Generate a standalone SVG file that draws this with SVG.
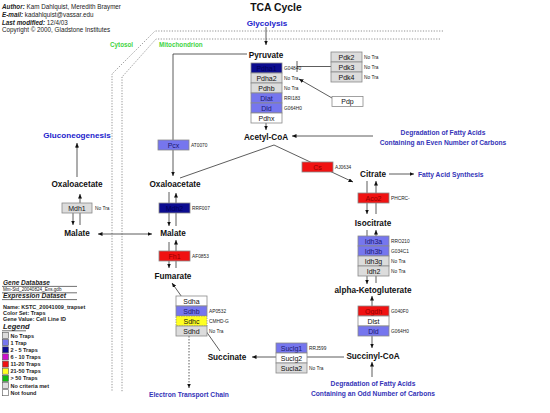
<svg xmlns="http://www.w3.org/2000/svg" width="550" height="413" viewBox="0 0 550 413">
<defs>
<marker id="ah" markerUnits="userSpaceOnUse" markerWidth="5" markerHeight="4" refX="4.5" refY="2" orient="auto-start-reverse"><path d="M0,0 L4.5,2 L0,4 z" fill="#111"/></marker>
<style>
text{font-family:"Liberation Sans",Arial,sans-serif}
.met{font-size:8.2px;font-weight:bold;text-anchor:middle;fill:#111}
.gene rect{stroke:#8a8a8a;stroke-width:0.8}
.gt{font-size:7px;text-anchor:middle;fill:#111}
.ann{font-size:4.8px;fill:#222}
.pw{font-size:6.7px;font-weight:bold;fill:#3434b8;text-anchor:middle}
.pwb{font-size:8.1px;font-weight:bold;fill:#2222cc;text-anchor:middle}
.ln{stroke:#333;stroke-width:0.8;fill:none}
.arr{marker-end:url(#ah)}
.g0{fill:#dcdcdc}.b1{fill:#7676ee}.b2{fill:#0c0c90}.rd{fill:#f01212}.yl{fill:#ffff22}.wh{fill:#ffffff}
.tb2{fill:#000058}.tb1{fill:#1a1a70}.trd{fill:#900000}
.dash{stroke:#777;stroke-width:0.8;stroke-dasharray:1.2,1.5;fill:none}
.lg{font-size:5.5px;font-weight:bold;fill:#222}
.lh{font-style:italic;font-weight:bold;fill:#222}
.ul{stroke:#333;stroke-width:0.7}
</style>
</defs>
<rect width="550" height="413" fill="#fff"/>

<g id="header">
<text x="2" y="9" font-size="6.3" fill="#222"><tspan font-weight="bold" font-style="italic">Author:</tspan> Kam Dahlquist, Meredith Braymer</text>
<text x="2" y="17" font-size="6.3" fill="#222"><tspan font-weight="bold" font-style="italic">E-mail:</tspan> kadahlquist@vassar.edu</text>
<text x="2" y="24.5" font-size="6.3" fill="#222"><tspan font-weight="bold" font-style="italic">Last modified:</tspan> 12/4/03</text>
<text x="2" y="32" font-size="6.3" fill="#222">Copyright © 2000, Gladstone Institutes</text>
<text x="276" y="11" font-size="10.4" font-weight="bold" text-anchor="middle" fill="#111">TCA Cycle</text>
</g>

<g id="compartments">
<path class="dash" d="M443,31 H155 L112,74 V392"/>
<path class="dash" d="M440,39 H156 L122,77 V392"/>
<text x="110" y="47" font-size="6.3" font-weight="bold" fill="#3fd43f">Cytosol</text>
<text x="159" y="47" font-size="6.3" font-weight="bold" fill="#3fd43f">Mitochondrion</text>
</g>

<g id="connectors">
<path class="ln arr" d="M266,27 V45"/>
<path class="ln arr" stroke="#555" d="M247,54 H173 V176"/>
<path class="ln arr" d="M266,123 V130"/>
<path class="ln" stroke="#666" d="M331,66.5 H297 M297,61 V72"/>
<path class="ln arr" stroke="#444" d="M332,98 L299,79"/>
<path class="ln arr" d="M373,136 H292"/>
<path class="ln" stroke="#555" d="M180,178 L274,145"/>
<path class="ln arr" stroke="#444" d="M274,145 L353,182"/>
<path class="ln arr" d="M389,174 H414"/>
<path class="ln arr" d="M367,181 V214"/>
<path class="ln arr" d="M376,214 V181"/>
<path class="ln arr" d="M367,230 V284"/>
<path class="ln arr" d="M376,283 V230"/>
<path class="ln arr" d="M372,306 V296"/>
<path class="ln arr" d="M372,336 V348"/>
<path class="ln arr" d="M372,377 V362"/>
<path class="ln arr" stroke="#555" d="M344,357 H252"/>
<path class="ln arr" stroke="#555" d="M220,351 L172,283"/>
<path class="ln arr" stroke-dasharray="1.5,1.5" d="M189,336 V388"/>
<path class="ln arr" d="M169,242 V268"/>
<path class="ln arr" d="M176,268 V240"/>
<path class="ln arr" d="M169,192 V226"/>
<path class="ln arr" d="M176,226 V193"/>
<path class="ln" style="stroke:#999;stroke-width:1.6" d="M77,177 V147"/>
<path class="arr" d="M77,148 V143" stroke="#111" stroke-width="0.8"/>
<path class="ln arr" d="M73,213 V225"/>
<path class="ln arr" d="M80,225 V194"/>
<path class="ln arr" style="marker-start:url(#ah)" d="M98,234 H152"/>
</g>

<g id="pathways">
<text class="pwb" x="267" y="25.5">Glycolysis</text>
<text class="pwb" x="77" y="138">Gluconeogenesis</text>
<text class="pw" x="443" y="134.5">Degradation of Fatty Acids</text>
<text class="pw" x="443" y="144.5">Containing an Even Number of Carbons</text>
<text class="pw" x="418" y="176.5" style="text-anchor:start">Fatty Acid Synthesis</text>
<text class="pw" x="189" y="396.5">Electron Transport Chain</text>
<text class="pw" x="373" y="385.5">Degradation of Fatty Acids</text>
<text class="pw" x="373" y="395.5">Containing an Odd Number of Carbons</text>
</g>

<g id="metabolites">
<text class="met" x="266" y="57.5">Pyruvate</text>
<text class="met" x="266" y="140">Acetyl-CoA</text>
<text class="met" x="373" y="177">Citrate</text>
<text class="met" x="373" y="226">Isocitrate</text>
<text class="met" x="373" y="293">alpha-Ketogluterate</text>
<text class="met" x="373" y="359">Succinyl-CoA</text>
<text class="met" x="227" y="360">Succinate</text>
<text class="met" x="173" y="279">Fumarate</text>
<text class="met" x="173" y="236">Malate</text>
<text class="met" x="175" y="187">Oxaloacetate</text>
<text class="met" x="77" y="187">Oxaloacetate</text>
<text class="met" x="77" y="236">Malate</text>
</g>

<g id="PDH" class="gene">
<rect class="b2" x="251" y="63" width="31" height="10"/><text class="gt tb2" x="266.5" y="70.5">Pdha1</text>
<rect class="g0" x="251" y="73" width="31" height="10"/><text class="gt" x="266.5" y="80.5">Pdha2</text>
<rect class="g0" x="251" y="83" width="31" height="10"/><text class="gt" x="266.5" y="90.5">Pdhb</text>
<rect class="b1" x="251" y="93" width="31" height="10"/><text class="gt tb1" x="266.5" y="100.5">Dlat</text>
<rect class="b1" x="251" y="103" width="31" height="10"/><text class="gt tb1" x="266.5" y="110.5">Dld</text>
<rect class="wh" x="251" y="113" width="31" height="10"/><text class="gt" x="266.5" y="120.5">Pdhx</text>
<text class="ann" x="284" y="69.5">G04840</text>
<text class="ann" x="284" y="79.5">No Tra</text>
<text class="ann" x="284" y="89.5">No Tra</text>
<text class="ann" x="284" y="99.5">RRI183</text>
<text class="ann" x="284" y="109.5">G064H0</text>
</g>

<g id="Pdk" class="gene">
<rect class="g0" x="331" y="52" width="31" height="10"/><text class="gt" x="346.5" y="59.5">Pdk2</text>
<rect class="g0" x="331" y="62" width="31" height="10"/><text class="gt" x="346.5" y="69.5">Pdk3</text>
<rect class="g0" x="331" y="72" width="31" height="10"/><text class="gt" x="346.5" y="79.5">Pdk4</text>
<text class="ann" x="364" y="58.5">No Tra</text>
<text class="ann" x="364" y="68.5">No Tra</text>
<text class="ann" x="364" y="78.5">No Tra</text>
</g>

<g id="Pdp" class="gene">
<rect class="wh" x="332" y="96.5" width="31" height="10"/><text class="gt" x="347.5" y="104">Pdp</text>
</g>

<g id="Pcx" class="gene">
<rect class="b1" x="158" y="140" width="31" height="10"/><text class="gt tb1" x="173.5" y="147.5">Pcx</text>
<text class="ann" x="191" y="146.5">AT0070</text>
</g>

<g id="Cs" class="gene">
<rect class="rd" x="302" y="162" width="31" height="10"/><text class="gt trd" x="317.5" y="169.5">Cs</text>
<text class="ann" x="335" y="168.5">AJ0634</text>
</g>

<g id="Aco2" class="gene">
<rect class="rd" x="358" y="193" width="31" height="10"/><text class="gt trd" x="373.5" y="200.5">Aco2</text>
<text class="ann" x="391" y="199.5">PHCRC-</text>
</g>

<g id="IDH" class="gene">
<rect class="b1" x="358" y="236" width="31" height="10"/><text class="gt tb1" x="373.5" y="243.5">Idh3a</text>
<rect class="b1" x="358" y="246" width="31" height="10"/><text class="gt tb1" x="373.5" y="253.5">Idh3b</text>
<rect class="g0" x="358" y="256" width="31" height="10"/><text class="gt" x="373.5" y="263.5">Idh3g</text>
<rect class="g0" x="358" y="266" width="31" height="10"/><text class="gt" x="373.5" y="273.5">Idh2</text>
<text class="ann" x="391" y="242.5">RRO210</text>
<text class="ann" x="391" y="252.5">G034C1</text>
<text class="ann" x="391" y="262.5">No Tra</text>
<text class="ann" x="391" y="272.5">No Tra</text>
</g>

<g id="OGDH" class="gene">
<rect class="rd" x="358" y="306" width="31" height="10"/><text class="gt trd" x="373.5" y="313.5">Ogdh</text>
<rect class="wh" x="358" y="316" width="31" height="10"/><text class="gt" x="373.5" y="323.5">Dlst</text>
<rect class="b1" x="358" y="326" width="31" height="10"/><text class="gt tb1" x="373.5" y="333.5">Dld</text>
<text class="ann" x="391" y="312.5">G040F0</text>
<text class="ann" x="391" y="332.5">G064H0</text>
</g>

<g id="SUCL" class="gene">
<rect class="b1" x="276" y="343" width="31" height="10"/><text class="gt tb1" x="291.5" y="350.5">Suclg1</text>
<rect class="wh" x="276" y="353" width="31" height="10"/><text class="gt" x="291.5" y="360.5">Suclg2</text>
<rect class="g0" x="276" y="363" width="31" height="10"/><text class="gt" x="291.5" y="370.5">Sucla2</text>
<text class="ann" x="309" y="349.5">RRJ599</text>
<text class="ann" x="309" y="369.5">No Tra</text>
</g>

<g id="SDH" class="gene">
<rect class="wh" x="176" y="296" width="31" height="10"/><text class="gt" x="191.5" y="303.5">Sdha</text>
<rect class="b1" x="176" y="306" width="31" height="10"/><text class="gt tb1" x="191.5" y="313.5">Sdhb</text>
<rect class="yl" x="176" y="316" width="31" height="10" style="stroke-dasharray:1.5,1"/><text class="gt" x="191.5" y="323.5">Sdhc</text>
<rect class="g0" x="176" y="326" width="31" height="10"/><text class="gt" x="191.5" y="333.5">Sdhd</text>
<text class="ann" x="209" y="312.5">AP0532</text>
<text class="ann" x="209" y="322.5">CMHD-G</text>
<text class="ann" x="209" y="332.5">No Tra</text>
</g>

<g id="Fh1" class="gene">
<rect class="rd" x="159" y="251" width="31" height="10"/><text class="gt trd" x="174.5" y="258.5">Fh1</text>
<text class="ann" x="192" y="257.5">AF0853</text>
</g>

<g id="Mdh2" class="gene">
<rect class="b2" x="159" y="203" width="31" height="10"/><text class="gt tb2" x="174.5" y="210.5">Mdh2</text>
<text class="ann" x="192" y="209.5">RRF007</text>
</g>

<g id="Mdh1" class="gene">
<rect class="g0" x="62" y="203" width="30" height="10"/><text class="gt" x="77" y="210.5">Mdh1</text>
<text class="ann" x="95" y="209.5">No Tra</text>
</g>

<g id="legend">
<text class="lh" x="3" y="285" font-size="6.5">Gene Database</text>
<line class="ul" x1="2" y1="286.4" x2="77" y2="286.4"/>
<text x="3" y="291.3" font-size="4.6" fill="#222">Mm-Std_20040824_Ens.gdb</text>
<line class="ul" x1="2" y1="292.8" x2="77" y2="292.8"/>
<text class="lh" x="3" y="298" font-size="6.8">Expression Dataset</text>
<line class="ul" x1="2" y1="299.6" x2="77" y2="299.6"/>
<text class="lg" x="3" y="308.5">Name: KSTC_20041009_trapset</text>
<text class="lg" x="3" y="314.5">Color Set: Traps</text>
<text class="lg" x="3" y="320.5">Gene Value: Cell Line ID</text>
<text class="lh" x="3" y="329" font-size="7.5">Legend</text>
<line class="ul" x1="2" y1="330.8" x2="26" y2="330.8"/>
<g stroke="#555" stroke-width="0.6">
<rect x="2.5" y="332.5" width="6" height="6" fill="#dcdcdc"/>
<rect x="2.5" y="339.6" width="6" height="6" fill="#7676ee"/>
<rect x="2.5" y="346.8" width="6" height="6" fill="#0c0c90"/>
<rect x="2.5" y="353.9" width="6" height="6" fill="#cc11cc"/>
<rect x="2.5" y="361.1" width="6" height="6" fill="#f01212"/>
<rect x="2.5" y="368.2" width="6" height="6" fill="#ffff22"/>
<rect x="2.5" y="375.4" width="6" height="6" fill="#11bb11"/>
<rect x="2.5" y="382.5" width="6" height="6" fill="#dcdcdc"/>
<rect x="2.5" y="389.7" width="6" height="6" fill="#ffffff"/>
</g>
<text class="lg" x="10.5" y="337.5">No Traps</text>
<text class="lg" x="10.5" y="344.6">1 Trap</text>
<text class="lg" x="10.5" y="351.8">2 - 5 Traps</text>
<text class="lg" x="10.5" y="358.9">6 - 10 Traps</text>
<text class="lg" x="10.5" y="366.1">11-20 Traps</text>
<text class="lg" x="10.5" y="373.2">21-50 Traps</text>
<text class="lg" x="10.5" y="380.4">&gt; 50 Traps</text>
<text class="lg" x="10.5" y="387.5">No criteria met</text>
<text class="lg" x="10.5" y="394.7">Not found</text>
</g>
</svg>
